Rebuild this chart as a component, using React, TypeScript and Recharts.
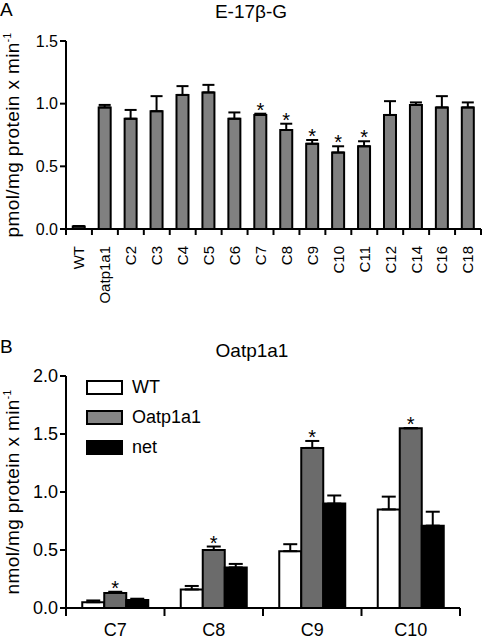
import React from "react";
import { BarChart, Bar, XAxis, YAxis, ErrorBar, LabelList, Legend } from "recharts";

const FONT = "'Liberation Sans', Arial, Helvetica, sans-serif";

// Panel A: E-17β-G uptake per construct
const categoriesA = ["WT", "Oatp1a1", "C2", "C3", "C4", "C5", "C6", "C7", "C8", "C9", "C10", "C11", "C12", "C14", "C16", "C18"];
const uptakeA = [0.02, 0.97, 0.88, 0.94, 1.07, 1.09, 0.88, 0.91, 0.79, 0.68, 0.61, 0.66, 0.91, 0.99, 0.97, 0.97];
const semA = [0.004, 0.02, 0.07, 0.12, 0.07, 0.06, 0.05, 0.01, 0.05, 0.03, 0.05, 0.04, 0.11, 0.02, 0.09, 0.04];
const starredA = ["C7", "C8", "C9", "C10", "C11"];
const ticksA = [0, 0.5, 1.0, 1.5];

// Panel B: Oatp1a1 substrates
const categoriesB = ["C7", "C8", "C9", "C10"];
const wtB = [0.05, 0.16, 0.49, 0.85];
const wtSemB = [0.015, 0.03, 0.06, 0.11];
const oatpB = [0.13, 0.5, 1.38, 1.55];
const oatpSemB = [0.01, 0.03, 0.06, 0];
const netB = [0.07, 0.35, 0.9, 0.71];
const netSemB = [0.01, 0.03, 0.07, 0.12];
const starredB = ["C7", "C8", "C9", "C10"];
const ticksB = [0, 0.5, 1.0, 1.5, 2.0];

const dataA = categoriesA.map((name, i) => ({ name, value: uptakeA[i], err: [0, semA[i]] }));
const dataB = categoriesB.map((name, i) => ({
  name,
  wt: wtB[i],
  wtErr: [0, wtSemB[i]],
  oatp: oatpB[i],
  oatpErr: [0, oatpSemB[i]],
  net: netB[i],
  netErr: [0, netSemB[i]],
}));

const W = 486;
const HA = 330;
const HB = 309;

function yLabel(prefix: string) {
  return (props: any) => {
    const vb = props.viewBox;
    const cx = 19;
    const cy = vb.y + vb.height / 2;
    return (
      <text
        x={cx}
        y={cy}
        transform={`rotate(-90, ${cx}, ${cy})`}
        textAnchor="middle"
        fontFamily={FONT}
        fontSize={19}
        letterSpacing={0.4}
        fill="#000"
      >
        {prefix + "/mg protein x min"}
        <tspan dy={-8} fontSize={10}>-1</tspan>
      </text>
    );
  };
}

// asterisk above the error bar of flagged categories
function makeStar(cats: string[], sem: number[], vals: number[], starred: string[]) {
  return (props: any) => {
    const vb = props.viewBox ?? props;
    const i = props.index;
    if (!starred.includes(cats[i]) || !vals[i]) return null;
    const x = (vb.x ?? props.x) + (vb.width ?? props.width) / 2;
    const y = vb.y ?? props.y;
    const h = vb.height ?? props.height;
    const errTop = y - (sem[i] * h) / vals[i];
    return (
      <text x={x} y={errTop + 3} textAnchor="middle" fontFamily={FONT} fontSize={20} fill="#000" stroke="none">
        *
      </text>
    );
  };
}

function boundaryTick(count: number, rotated: boolean, fontSize: number) {
  return (props: any) => {
    const { x, y, payload, index } = props;
    const half = payload.offset || 0;
    const axisY = y - 8;
    const tickLen = rotated ? 6 : 8;
    return (
      <g>
        <line x1={x - half} x2={x - half} y1={axisY} y2={axisY + tickLen} stroke="#000" strokeWidth={2} />
        {index === count - 1 && (
          <line x1={x + half} x2={x + half} y1={axisY} y2={axisY + tickLen} stroke="#000" strokeWidth={2} />
        )}
        {rotated ? (
          <text
            x={x}
            y={y + 9}
            dy="0.36em"
            transform={`rotate(-90, ${x}, ${y + 9})`}
            textAnchor="end"
            fontFamily={FONT}
            fontSize={fontSize}
            fill="#000"
          >
            {payload.value}
          </text>
        ) : (
          <text x={x} y={y + 20} textAnchor="middle" fontFamily={FONT} fontSize={fontSize} fill="#000">
            {payload.value}
          </text>
        )}
      </g>
    );
  };
}

const legendItems = [
  { label: "WT", fill: "#ffffff" },
  { label: "Oatp1a1", fill: "#858585" },
  { label: "net", fill: "#000000" },
];

function LegendB() {
  return (
    <div style={{ fontFamily: FONT, fontSize: 18, color: "#000" }}>
      {legendItems.map((it) => (
        <div key={it.label} style={{ display: "flex", alignItems: "center", height: 30 }}>
          <div
            style={{
              width: 37,
              height: 15,
              boxSizing: "border-box",
              border: "2px solid #000",
              background: it.fill,
              marginRight: 9,
            }}
          />
          <span>{it.label}</span>
        </div>
      ))}
    </div>
  );
}

const titleStyle: React.CSSProperties = {
  position: "absolute",
  fontFamily: FONT,
  fontSize: 19,
  lineHeight: "19px",
  color: "#000",
  whiteSpace: "nowrap",
};

export default function App() {
  return (
    <div style={{ position: "absolute", left: 0, top: 0, width: W, height: HA + HB, background: "#fff" }}>
      <div style={{ ...titleStyle, left: 0, top: 0 }}>A</div>
      <div style={{ ...titleStyle, left: 251, top: 2, transform: "translateX(-50%)" }}>E-17β-G</div>
      <div style={{ ...titleStyle, left: 0, top: 337 }}>B</div>
      <div style={{ ...titleStyle, left: 252, top: 341, transform: "translateX(-50%)" }}>Oatp1a1</div>

      <div style={{ position: "absolute", left: 0, top: 0 }}>
        <BarChart width={W} height={HA} data={dataA} margin={{ top: 41, right: 5, left: 0, bottom: 0 }} barCategoryGap="26%">
          <XAxis
            dataKey="name"
            interval={0}
            height={101}
            axisLine={{ stroke: "#000", strokeWidth: 2 }}
            tickLine={false}
            tick={boundaryTick(categoriesA.length, true, 15)}
          />
          <YAxis
            width={66}
            domain={[0, 1.5]}
            ticks={ticksA}
            tickFormatter={(v) => v.toFixed(1)}
            axisLine={{ stroke: "#000", strokeWidth: 2 }}
            tickLine={{ stroke: "#000", strokeWidth: 2 }}
            tick={{ fill: "#000", fontSize: 16, fontFamily: FONT }}
            label={{ content: yLabel("pmol") }}
          />
          <Bar dataKey="value" fill="#808080" stroke="#000" strokeWidth={2} isAnimationActive={false}>
            <ErrorBar dataKey="err" width={6} stroke="#000" strokeWidth={2} />
            <LabelList dataKey="name" content={makeStar(categoriesA, semA, uptakeA, starredA)} />
          </Bar>
        </BarChart>
      </div>

      <div style={{ position: "absolute", left: 0, top: HA }}>
        <BarChart width={W} height={HB} data={dataB} margin={{ top: 46, right: 26, left: 0, bottom: 0 }} barCategoryGap="16.5%" barGap={0}>
          <XAxis
            dataKey="name"
            interval={0}
            height={31}
            axisLine={{ stroke: "#000", strokeWidth: 2 }}
            tickLine={false}
            tick={boundaryTick(categoriesB.length, false, 18)}
          />
          <YAxis
            width={66}
            domain={[0, 2]}
            ticks={ticksB}
            tickFormatter={(v) => v.toFixed(1)}
            axisLine={{ stroke: "#000", strokeWidth: 2 }}
            tickLine={{ stroke: "#000", strokeWidth: 2 }}
            tick={{ fill: "#000", fontSize: 18, fontFamily: FONT }}
            label={{ content: yLabel("nmol") }}
          />
          <Legend
            layout="vertical"
            align="center"
            verticalAlign="middle"
            wrapperStyle={{ left: 86, top: 42, width: 160 }}
            content={() => <LegendB />}
          />
          <Bar dataKey="wt" name="WT" fill="#ffffff" stroke="#000" strokeWidth={2} isAnimationActive={false}>
            <ErrorBar dataKey="wtErr" width={7} stroke="#000" strokeWidth={2} />
          </Bar>
          <Bar dataKey="oatp" name="Oatp1a1" fill="#6b6b6b" stroke="#000" strokeWidth={2} isAnimationActive={false}>
            <ErrorBar dataKey="oatpErr" width={7} stroke="#000" strokeWidth={2} />
            <LabelList dataKey="name" content={makeStar(categoriesB, oatpSemB, oatpB, starredB)} />
          </Bar>
          <Bar dataKey="net" name="net" fill="#000000" stroke="#000" strokeWidth={2} isAnimationActive={false}>
            <ErrorBar dataKey="netErr" width={7} stroke="#000" strokeWidth={2} />
          </Bar>
        </BarChart>
      </div>
    </div>
  );
}
